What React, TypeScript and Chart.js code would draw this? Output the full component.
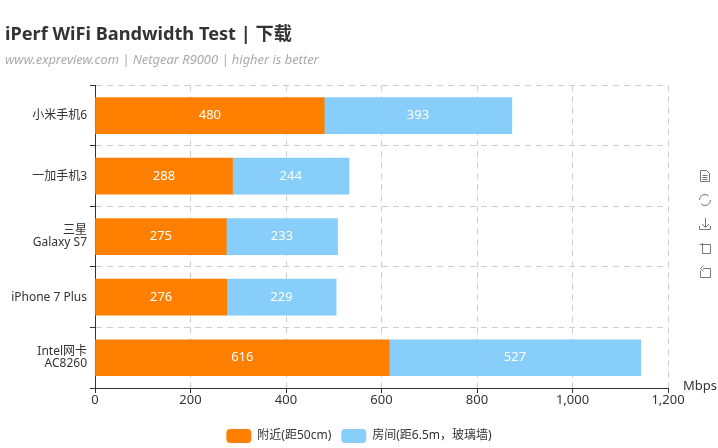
import { useEffect, useRef } from "react";
import { Chart, registerables } from "chart.js";

Chart.register(...registerables);

const categories = [["小米手机6"], ["一加手机3"], ["三星", "Galaxy S7"], ["iPhone 7 Plus"], ["Intel网卡", "AC8260"]];
const nearValues = [480, 288, 275, 276, 616];
const roomValues = [393, 244, 233, 229, 527];
const nearName = "附近(距50cm)";
const roomName = "房间(距6.5m，玻璃墙)";
const titleText = "iPerf WiFi Bandwidth Test | 下载";
const subtitleText = "www.expreview.com | Netgear R9000 | higher is better";
const unitText = "Mbps";
const FONT = "'Noto Sans', 'Noto Sans CJK SC', sans-serif";

const layoutFix = {
  id: "layoutFix",
  afterLayout(chart: any) {
    chart.legend.left = 0;
    chart.legend.right = chart.width;
    chart.legend.top += 6;
    chart.legend.bottom += 6;
  },
};

const barLabels = {
  id: "barLabels",
  afterDatasetsDraw(chart: any) {
    const ctx = chart.ctx;
    ctx.save();
    ctx.font = `13px ${FONT}`;
    ctx.fillStyle = "#fff";
    ctx.textAlign = "center";
    ctx.textBaseline = "middle";
    chart.data.datasets.forEach((ds: any, i: number) => {
      chart.getDatasetMeta(i).data.forEach((bar: any, j: number) => {
        const p = bar.getProps(["x", "y", "base"], true);
        ctx.fillText(String(ds.data[j]), (p.x + p.base) / 2, p.y);
      });
    });
    ctx.restore();
  },
};

const unitLabel = {
  id: "unitLabel",
  afterDraw(chart: any) {
    const ctx = chart.ctx;
    const { right, bottom } = chart.chartArea;
    ctx.save();
    ctx.font = `13px ${FONT}`;
    ctx.fillStyle = "#333";
    ctx.textAlign = "left";
    ctx.textBaseline = "middle";
    ctx.fillText(unitText, right + 15, bottom - 2);
    ctx.restore();
  },
};

const toolbox = {
  id: "toolbox",
  afterDraw(chart: any) {
    const c = chart.ctx;
    const x = 705;
    c.save();
    c.strokeStyle = "#777";
    c.lineWidth = 1;
    // document
    c.beginPath();
    c.moveTo(x - 4.5, 170.5); c.lineTo(x + 1.5, 170.5); c.lineTo(x + 4.5, 173.5); c.lineTo(x + 4.5, 181.5); c.lineTo(x - 4.5, 181.5); c.closePath();
    c.moveTo(x - 2.5, 175.5); c.lineTo(x + 2.5, 175.5);
    c.moveTo(x - 2.5, 177.5); c.lineTo(x + 2.5, 177.5);
    c.moveTo(x - 2.5, 179.5); c.lineTo(x + 2.5, 179.5);
    c.stroke();
    // refresh
    c.beginPath(); c.arc(x, 200, 5.5, Math.PI * 1.0, Math.PI * 1.75); c.stroke();
    c.beginPath(); c.arc(x, 200, 5.5, Math.PI * 0.0, Math.PI * 0.75); c.stroke();
    // download
    c.beginPath();
    c.moveTo(x + 0.5, 218); c.lineTo(x + 0.5, 227);
    c.moveTo(x - 3, 224); c.lineTo(x + 0.5, 227.5); c.lineTo(x + 4, 224);
    c.moveTo(x - 5.5, 226); c.lineTo(x - 5.5, 229.5); c.lineTo(x + 5.5, 229.5); c.lineTo(x + 5.5, 226);
    c.stroke();
    // zoom
    c.beginPath();
    c.moveTo(x - 2.5, 244.5); c.lineTo(x + 5.5, 244.5); c.lineTo(x + 5.5, 253.5); c.lineTo(x - 2.5, 253.5); c.lineTo(x - 2.5, 243);
    c.moveTo(x - 5.5, 244.5); c.lineTo(x - 1.5, 244.5);
    c.stroke();
    // back
    c.beginPath();
    c.moveTo(x - 2, 268.5); c.lineTo(x + 5.5, 268.5); c.lineTo(x + 5.5, 277.5); c.lineTo(x - 4.5, 277.5); c.lineTo(x - 4.5, 270.5);
    c.moveTo(x - 1.5, 265.5); c.lineTo(x - 4.5, 268.5); c.lineTo(x - 1.5, 271);
    c.stroke();
    c.restore();
  },
};

export default function App() {
  const ref = useRef<HTMLCanvasElement>(null);
  useEffect(() => {
    const chart = new Chart(ref.current as HTMLCanvasElement, {
      type: "bar",
      data: {
        labels: categories as any,
        datasets: [
          { label: nearName, data: nearValues, backgroundColor: "#ff8000", barThickness: 36 },
          { label: roomName, data: roomValues, backgroundColor: "#87cefa", barThickness: 36 },
        ],
      },
      options: {
        indexAxis: "y",
        responsive: false,
        animation: false,
        layout: { padding: { left: 5, right: 50, top: 24, bottom: 1 } },
        scales: {
          x: {
            stacked: true,
            min: 0,
            max: 1200,
            position: "bottom",
            afterFit(s: any) { s.height = 25; },
            ticks: { stepSize: 200, color: "#333", font: { family: FONT, size: 13 }, padding: -1, maxRotation: 0 },
            grid: { color: "#ccc", tickColor: "#333", tickLength: 5, tickBorderDash: [], z: 0 },
            border: { color: "#333", dash: [6, 5], display: true },
          },
          y: {
            stacked: true,
            afterFit(s: any) { s.width = 90; },
            ticks: { color: "#333", font: { family: FONT, size: 12, lineHeight: 1 }, padding: 3, autoSkip: false },
            grid: { color: "#ccc", tickColor: "#333", tickLength: 5, offset: true },
            border: { color: "#333", dash: [6, 5], display: true },
          },
        },
        plugins: {
          title: {
            display: true, text: titleText, align: "start", color: "#333",
            font: { family: FONT, size: 18.2, weight: "bold", lineHeight: 1.2 },
            padding: { top: 0, bottom: 7 },
          },
          subtitle: {
            display: true, text: subtitleText, align: "start", color: "#aaa",
            font: { family: FONT, size: 12.9, style: "italic", lineHeight: 1.2 },
            padding: { top: 0, bottom: 17 },
          },
          legend: {
            display: true, position: "bottom",
            labels: {
              boxWidth: 25, boxHeight: 14, useBorderRadius: true, borderRadius: 4,
              color: "#333", font: { family: FONT, size: 12 }, padding: 10,
            },
          },
          tooltip: { enabled: false },
        },
      } as any,
      plugins: [layoutFix, barLabels, unitLabel, toolbox],
    });
    return () => chart.destroy();
  }, []);
  return (
    <canvas
      ref={ref}
      width={718}
      height={448}
      style={{ position: "absolute", left: 0, top: 0, display: "block" }}
    />
  );
}
